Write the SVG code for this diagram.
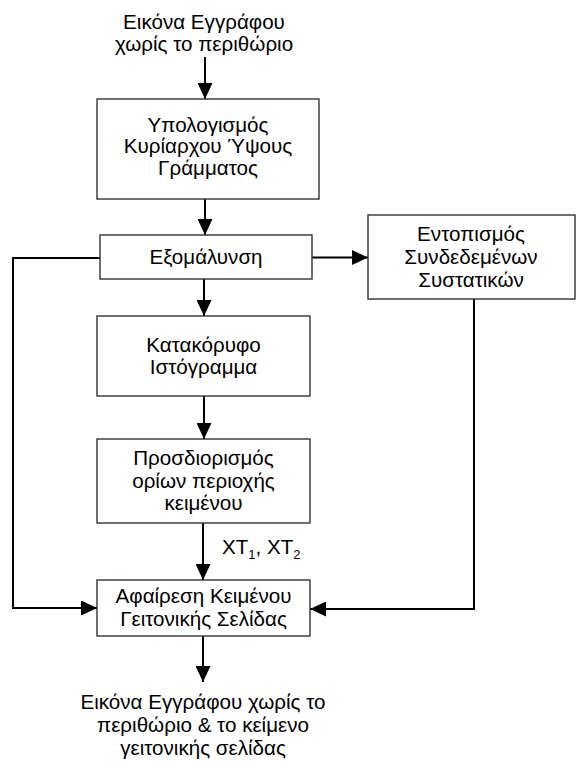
<svg xmlns="http://www.w3.org/2000/svg" width="576" height="765" viewBox="0 0 576 765">
<defs>
<style>
text{font-family:"Liberation Sans",Arial,sans-serif;font-size:20.6px;fill:#000;text-anchor:middle}
.box{fill:#fff;stroke:#333;stroke-width:1.4}
.con{fill:none;stroke:#000;stroke-width:2}
.sub{font-size:13px}
</style>
<marker id="ah" viewBox="0 0 16 15" refX="16" refY="7.5" markerWidth="16" markerHeight="15" markerUnits="userSpaceOnUse" orient="auto">
<path d="M0,0 L16,7.5 L0,15 Z" fill="#000"/>
</marker>
</defs>
<rect width="576" height="765" fill="#fff"/>
<g id="connectors">
<path class="con" d="M205,57 L205,99" marker-end="url(#ah)"/>
<path class="con" d="M205,199 L205,235" marker-end="url(#ah)"/>
<path class="con" d="M204,279 L204,316" marker-end="url(#ah)"/>
<path class="con" d="M204,396 L204,439" marker-end="url(#ah)"/>
<path class="con" d="M203,523 L203,580" marker-end="url(#ah)"/>
<path class="con" d="M312,257.5 L368,257.5" marker-end="url(#ah)"/>
<path class="con" d="M100,258 L13,258 L13,608 L97,608" marker-end="url(#ah)"/>
<path class="con" d="M474,299 L474,609 L310,609" marker-end="url(#ah)"/>
<path class="con" d="M203,636 L203,682" marker-end="url(#ah)"/>
<text x="222" y="554" style="text-anchor:start">XT<tspan class="sub" dy="5">1</tspan><tspan dy="-5">, XT</tspan><tspan class="sub" dy="5">2</tspan></text>
</g>
<g id="input">
<text x="204" y="29">Εικόνα Εγγράφου</text>
<text x="204" y="51">χωρίς το περιθώριο</text>
</g>
<g id="n1">
<rect class="box" x="97" y="99" width="222" height="100"/>
<text x="208" y="131.5">Υπολογισμός</text>
<text x="208" y="153">Κυρίαρχου Ύψους</text>
<text x="208" y="174.5">Γράμματος</text>
</g>
<g id="n2">
<rect class="box" x="100" y="235" width="212" height="44"/>
<text x="206" y="264">Εξομάλυνση</text>
</g>
<g id="n3">
<rect class="box" x="368" y="215" width="207" height="84"/>
<text x="471" y="240.5">Εντοπισμός</text>
<text x="471" y="263.5">Συνδεδεμένων</text>
<text x="471" y="287">Συστατικών</text>
</g>
<g id="n4">
<rect class="box" x="97" y="316" width="213" height="80"/>
<text x="203.5" y="352">Κατακόρυφο</text>
<text x="203.5" y="374">Ιστόγραμμα</text>
</g>
<g id="n5">
<rect class="box" x="97" y="439" width="213" height="84"/>
<text x="203.5" y="465">Προσδιορισμός</text>
<text x="203.5" y="487.5">ορίων περιοχής</text>
<text x="203.5" y="510">κειμένου</text>
</g>
<g id="n6">
<rect class="box" x="97" y="580" width="213" height="56"/>
<text x="203.5" y="602.5">Αφαίρεση Κειμένου</text>
<text x="203.5" y="625.5">Γειτονικής Σελίδας</text>
</g>
<g id="output">
<text x="203" y="709">Εικόνα Εγγράφου χωρίς το</text>
<text x="203" y="732">περιθώριο &amp; το κείμενο</text>
<text x="203" y="755">γειτονικής σελίδας</text>
</g>
</svg>
